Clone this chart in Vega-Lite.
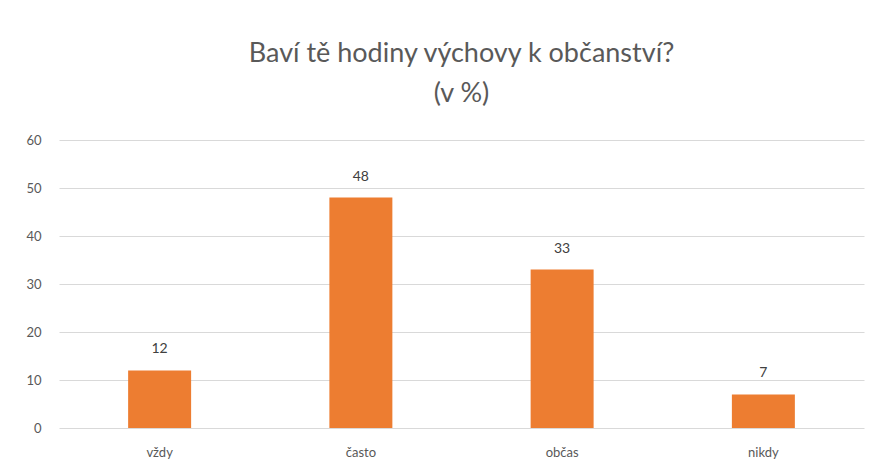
{
  "$schema": "https://vega.github.io/schema/vega-lite/v6.json",
  "width": 805,
  "height": 288,
  "padding": {"left": 25, "top": 40, "right": 5, "bottom": 5},
  "background": "white",
  "title": {
    "text": ["Baví tě hodiny výchovy k občanství?", "(v %)"],
    "font": "Lato",
    "fontSize": 27,
    "fontWeight": "normal",
    "color": "#595959",
    "lineHeight": 40,
    "anchor": "middle",
    "offset": 26
  },
  "data": {
    "values": [
      {"odpoved": "vždy", "podil": 12},
      {"odpoved": "často", "podil": 48},
      {"odpoved": "občas", "podil": 33},
      {"odpoved": "nikdy", "podil": 7}
    ]
  },
  "config": {
    "view": {"stroke": null},
    "font": "Lato"
  },
  "encoding": {
    "x": {
      "field": "odpoved",
      "type": "nominal",
      "sort": null,
      "title": null,
      "scale": {"paddingInner": 0.687, "paddingOuter": 0.3435},
      "axis": {
        "labelAngle": 0,
        "domain": false,
        "ticks": false,
        "labelPadding": 18,
        "labelFontSize": 13,
        "labelColor": "#595959",
        "labelFont": "Lato"
      }
    },
    "y": {
      "field": "podil",
      "type": "quantitative",
      "title": null,
      "scale": {"domain": [0, 60]},
      "axis": {
        "values": [0, 10, 20, 30, 40, 50, 60],
        "domain": false,
        "ticks": false,
        "labelPadding": 18,
        "labelFontSize": 13,
        "labelColor": "#595959",
        "labelFont": "Lato",
        "gridColor": "#d9d9d9",
        "gridWidth": 1
      }
    }
  },
  "layer": [
    {"mark": {"type": "bar", "color": "#ED7D31"}},
    {
      "mark": {"type": "text", "dy": -14, "fontSize": 14, "color": "#404040", "font": "Lato", "baseline": "bottom"},
      "encoding": {"text": {"field": "podil", "type": "quantitative"}}
    }
  ]
}
